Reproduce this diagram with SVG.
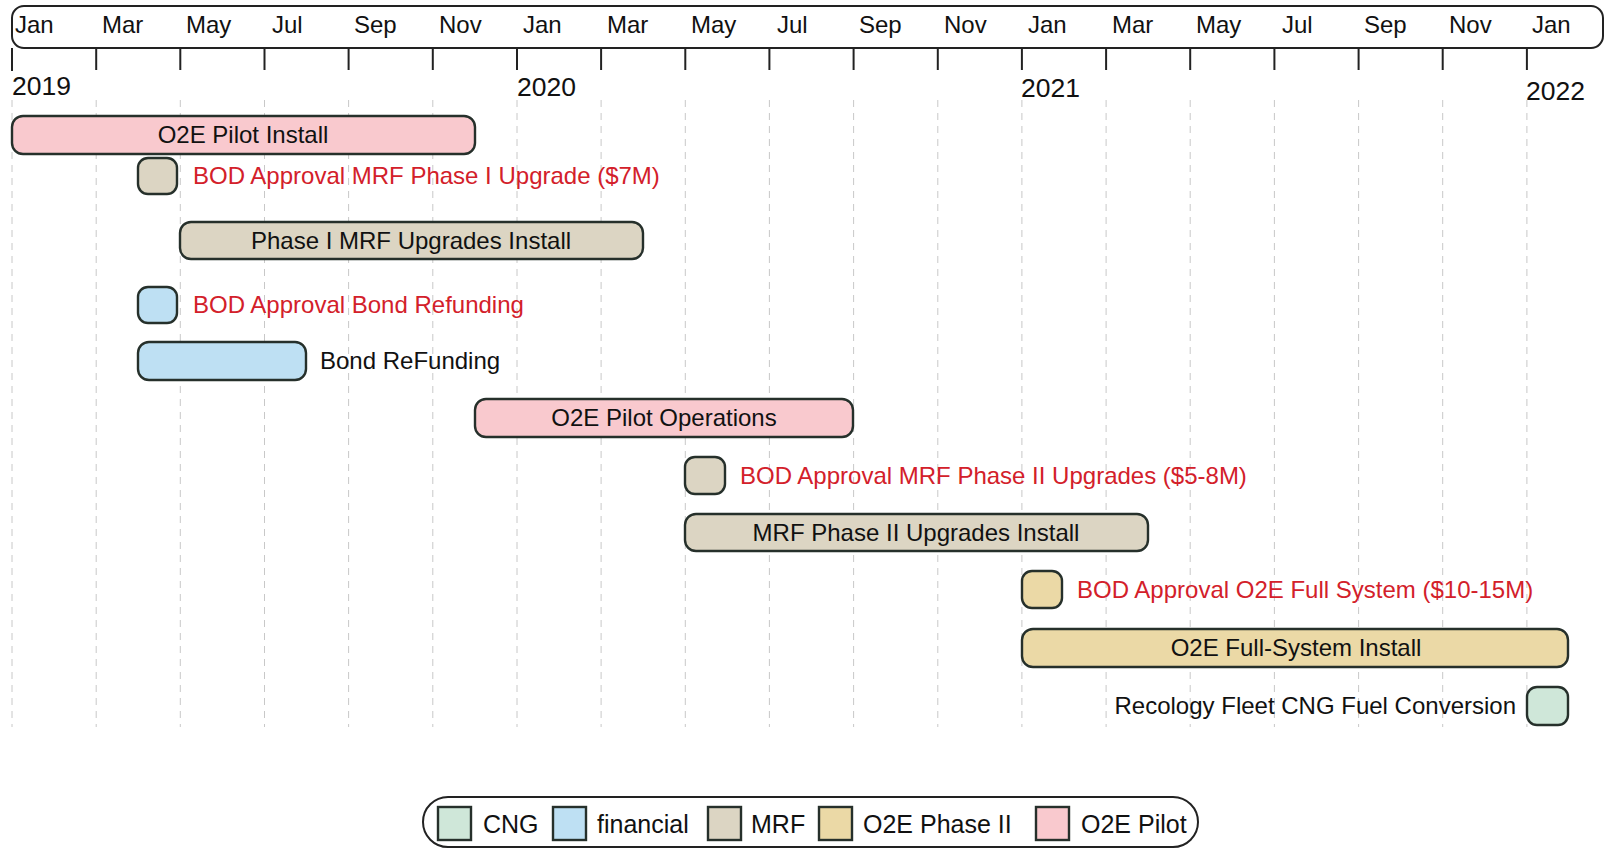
<svg xmlns="http://www.w3.org/2000/svg" width="1606" height="849" viewBox="0 0 1606 849">
<style>
text{font-family:"Liberation Sans",Arial,sans-serif;font-size:24px;fill:#111}
.red{fill:#d3202a}
.mid{text-anchor:middle}
.end{text-anchor:end}
.lg{font-size:25px}
.yr{font-size:26.5px}
.bar{stroke:#26302b;stroke-width:2.4}
.pilot{fill:#f9c9ce}
.mrf{fill:#dcd5c3}
.fin{fill:#bee0f3}
.p2{fill:#ebd9a6}
.cng{fill:#cfe7d9}
.grid line{stroke:#c8c8c8;stroke-width:1;stroke-dasharray:7 6}
.ticks line{stroke:#222;stroke-width:2}
</style>
<rect width="1606" height="849" fill="#fff"/>
<g id="grid" class="grid">
<line x1="12" y1="100" x2="12" y2="727"/><line x1="96.2" y1="100" x2="96.2" y2="727"/><line x1="180.3" y1="100" x2="180.3" y2="727"/><line x1="264.5" y1="100" x2="264.5" y2="727"/><line x1="348.6" y1="100" x2="348.6" y2="727"/><line x1="432.8" y1="100" x2="432.8" y2="727"/><line x1="517" y1="100" x2="517" y2="727"/><line x1="601.1" y1="100" x2="601.1" y2="727"/><line x1="685.3" y1="100" x2="685.3" y2="727"/><line x1="769.4" y1="100" x2="769.4" y2="727"/><line x1="853.6" y1="100" x2="853.6" y2="727"/><line x1="937.8" y1="100" x2="937.8" y2="727"/><line x1="1021.9" y1="100" x2="1021.9" y2="727"/><line x1="1106.1" y1="100" x2="1106.1" y2="727"/><line x1="1190.2" y1="100" x2="1190.2" y2="727"/><line x1="1274.4" y1="100" x2="1274.4" y2="727"/><line x1="1358.6" y1="100" x2="1358.6" y2="727"/><line x1="1442.7" y1="100" x2="1442.7" y2="727"/><line x1="1526.9" y1="100" x2="1526.9" y2="727"/>
</g>
<g id="header">
<rect x="12" y="6" width="1591" height="42" rx="12" fill="#fff" stroke="#222" stroke-width="2"/>
<text x="15" y="33">Jan</text><text x="102" y="33">Mar</text><text x="186" y="33">May</text><text x="272" y="33">Jul</text><text x="354" y="33">Sep</text><text x="439" y="33">Nov</text><text x="523" y="33">Jan</text><text x="607" y="33">Mar</text><text x="691" y="33">May</text><text x="777" y="33">Jul</text><text x="859" y="33">Sep</text><text x="944" y="33">Nov</text><text x="1028" y="33">Jan</text><text x="1112" y="33">Mar</text><text x="1196" y="33">May</text><text x="1282" y="33">Jul</text><text x="1364" y="33">Sep</text><text x="1449" y="33">Nov</text><text x="1532" y="33">Jan</text>
</g>
<g id="ticks" class="ticks">
<line x1="12" y1="48" x2="12" y2="71"/><line x1="96.2" y1="48" x2="96.2" y2="70"/><line x1="180.3" y1="48" x2="180.3" y2="70"/><line x1="264.5" y1="48" x2="264.5" y2="70"/><line x1="348.6" y1="48" x2="348.6" y2="70"/><line x1="432.8" y1="48" x2="432.8" y2="70"/><line x1="517" y1="48" x2="517" y2="70"/><line x1="601.1" y1="48" x2="601.1" y2="70"/><line x1="685.3" y1="48" x2="685.3" y2="70"/><line x1="769.4" y1="48" x2="769.4" y2="70"/><line x1="853.6" y1="48" x2="853.6" y2="70"/><line x1="937.8" y1="48" x2="937.8" y2="70"/><line x1="1021.9" y1="48" x2="1021.9" y2="70"/><line x1="1106.1" y1="48" x2="1106.1" y2="70"/><line x1="1190.2" y1="48" x2="1190.2" y2="70"/><line x1="1274.4" y1="48" x2="1274.4" y2="70"/><line x1="1358.6" y1="48" x2="1358.6" y2="70"/><line x1="1442.7" y1="48" x2="1442.7" y2="70"/><line x1="1526.9" y1="48" x2="1526.9" y2="70"/>
</g>
<g id="years">
<text class="yr" x="12" y="95">2019</text><text class="yr" x="517" y="96">2020</text><text class="yr" x="1021" y="97">2021</text><text class="yr" x="1526" y="100">2022</text>
</g>
<g id="o2e-pilot-install"><rect class="bar pilot" x="12" y="116" width="463" height="38" rx="11"/><text class="mid" x="243" y="143">O2E Pilot Install</text></g>
<g id="bod-mrf-phase1"><rect class="bar mrf" x="138" y="158" width="39" height="36" rx="10"/><text class="red" x="193" y="184">BOD Approval MRF Phase I Upgrade ($7M)</text></g>
<g id="phase1-mrf-install"><rect class="bar mrf" x="180" y="222" width="463" height="37" rx="11"/><text class="mid" x="411" y="249">Phase I MRF Upgrades Install</text></g>
<g id="bod-bond"><rect class="bar fin" x="138" y="287" width="39" height="36" rx="10"/><text class="red" x="193" y="313">BOD Approval Bond Refunding</text></g>
<g id="bond-refunding"><rect class="bar fin" x="138" y="342" width="168" height="38" rx="11"/><text x="320" y="369">Bond ReFunding</text></g>
<g id="o2e-pilot-ops"><rect class="bar pilot" x="475" y="399" width="378" height="38" rx="11"/><text class="mid" x="664" y="426">O2E Pilot Operations</text></g>
<g id="bod-mrf-phase2"><rect class="bar mrf" x="685" y="457" width="40" height="37" rx="10"/><text class="red" x="740" y="484">BOD Approval MRF Phase II Upgrades ($5-8M)</text></g>
<g id="mrf-phase2-install"><rect class="bar mrf" x="685" y="514" width="463" height="37" rx="11"/><text class="mid" x="916" y="541">MRF Phase II Upgrades Install</text></g>
<g id="bod-o2e-full"><rect class="bar p2" x="1022" y="571" width="40" height="37" rx="10"/><text class="red" x="1077" y="598">BOD Approval O2E Full System ($10-15M)</text></g>
<g id="o2e-full-install"><rect class="bar p2" x="1022" y="629" width="546" height="38" rx="11"/><text class="mid" x="1296" y="656">O2E Full-System Install</text></g>
<g id="cng-conversion"><rect class="bar cng" x="1527" y="687" width="41" height="38" rx="10"/><text class="end" x="1516" y="714">Recology Fleet CNG Fuel Conversion</text></g>
<g id="legend">
<rect x="423" y="797" width="775" height="50" rx="25" fill="#fff" stroke="#222" stroke-width="2"/>
<rect class="bar cng" x="438" y="807" width="33" height="33" stroke-width="1.5"/><text class="lg" x="483" y="833">CNG</text>
<rect class="bar fin" x="553" y="807" width="33" height="33" stroke-width="1.5"/><text class="lg" x="597" y="833">financial</text>
<rect class="bar mrf" x="708" y="807" width="33" height="33" stroke-width="1.5"/><text class="lg" x="751" y="833">MRF</text>
<rect class="bar p2" x="819" y="807" width="33" height="33" stroke-width="1.5"/><text class="lg" x="863" y="833">O2E Phase II</text>
<rect class="bar pilot" x="1036" y="807" width="33" height="33" stroke-width="1.5"/><text class="lg" x="1081" y="833">O2E Pilot</text>
</g>
</svg>
